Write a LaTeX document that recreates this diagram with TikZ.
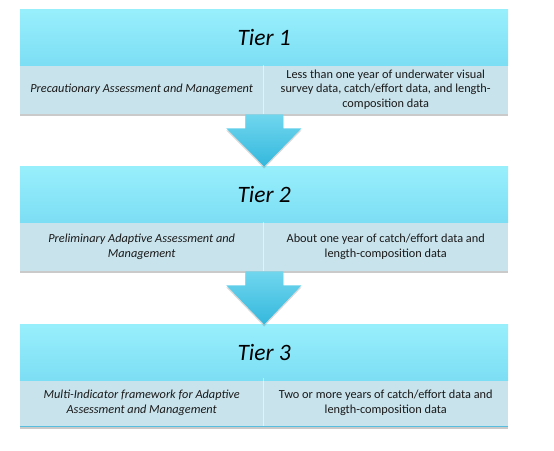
\documentclass[tikz,border=0pt]{standalone}
\usepackage{fontspec}
\setmainfont{Carlito}
\usetikzlibrary{shadows,calc}
\definecolor{headtop}{RGB}{152,239,252}
\definecolor{headbot}{RGB}{124,222,244}
\definecolor{bodyfill}{RGB}{201,227,236}
\definecolor{arrtop}{RGB}{112,214,238}
\definecolor{arrbot}{RGB}{52,184,221}
\definecolor{edgeblue}{RGB}{88,190,224}
\begin{document}
\begin{tikzpicture}[x=1pt,y=-1pt,
  header/.style={anchor=north west,minimum width=488pt,minimum height=56pt,inner sep=0pt,
    top color=headtop,bottom color=headbot,draw=none,
    font=\fontsize{23.5}{28}\selectfont\itshape},
  cell/.style={anchor=north west,minimum height=49pt,inner sep=0pt,fill=bodyfill,draw=none,
    align=center,text=black!90,font=\fontsize{12.3}{14.6}\selectfont,
    drop shadow={shadow xshift=0pt,shadow yshift=-2pt,opacity=0.35,fill=black!60}},
  lcell/.style={cell,minimum width=243pt,font=\fontsize{12.3}{14.6}\selectfont\itshape},
  rcell/.style={cell,minimum width=245pt},
  tierarrow/.style={top color=arrtop,bottom color=arrbot,draw=none,
    drop shadow={shadow xshift=0pt,shadow yshift=-2pt,opacity=0.25,fill=black!60}},
  divider/.style={white,opacity=0.5,line width=0.6pt}]
\useasboundingbox (0,0) rectangle (554,450);

% Tier 1
\node[lcell] (b1l) at (20,65) {Precautionary Assessment and Management};
\node[rcell] (b1r) at (263,65) {Less than one year of underwater visual\\survey data, catch/effort data, and length-\\composition data};
\node[header] (h1) at (20,9) {Tier 1};
\draw[divider] (b1l.north east) -- (b1l.south east);

% Tier 2
\node[lcell] (b2l) at (20,222) {Preliminary Adaptive Assessment and\\Management};
\node[rcell] (b2r) at (263,222) {About one year of catch/effort data and\\length-composition data};
\node[header] (h2) at (20,166) {Tier 2};
\draw[divider] (b2l.north east) -- (b2l.south east);

% Tier 3
\node[lcell] (b3l) at (20,378) {Multi-Indicator framework for Adaptive\\Assessment and Management};
\node[rcell] (b3r) at (263,378) {Two or more years of catch/effort data and\\length-composition data};
\node[header] (h3) at (20,324) {Tier 3};
\draw[divider] (b3l.north east) -- (b3l.south east);
\draw[edgeblue,line width=1.6pt] ($(b3l.south west)+(0,-0.8)$) -- ($(b3r.south east)+(0,-0.8)$);

% Arrows
\coordinate (a1) at ($(b1l.south east)+(1,0)$);
\coordinate (a2) at ($(b2l.south east)+(1,0)$);
\path[tierarrow] (a1) ++(-19,0) -- ++(0,14) -- ++(-19,0) -- ($(h2.north)+(0,0.5)$) -- ($(a1)+(37,14)$) -- ++(-18,0) -- ++(0,-14) -- cycle;
\path[tierarrow] (a2) ++(-19,0) -- ++(0,14) -- ++(-19,0) -- ($(h3.north)+(0,0.5)$) -- ($(a2)+(37,14)$) -- ++(-18,0) -- ++(0,-14) -- cycle;
\end{tikzpicture}
\end{document}
